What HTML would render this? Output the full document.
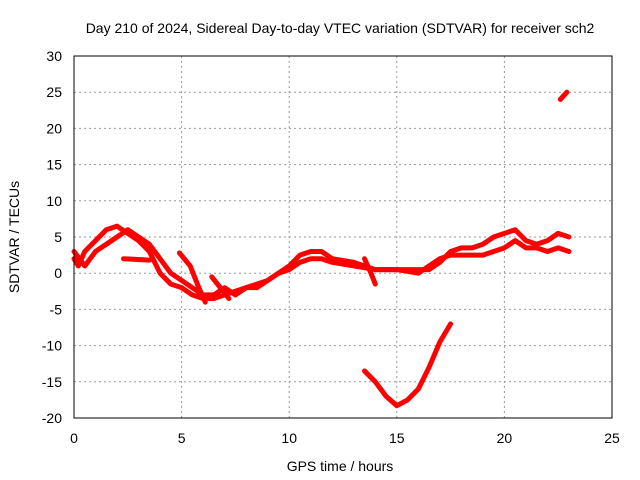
<!DOCTYPE html>
<html><head><meta charset="utf-8"><style>
body{margin:0;background:#fff}
svg{display:block;font-family:"Liberation Sans",sans-serif}
</style></head><body>
<svg id="chart" width="640" height="480">
<text x="340" y="33" text-anchor="middle" font-size="14" fill="#000">Day 210 of 2024, Sidereal Day-to-day VTEC variation (SDTVAR) for receiver sch2</text>
<text x="340" y="471" text-anchor="middle" font-size="14">GPS time / hours</text>
<text transform="translate(19,237) rotate(-90)" text-anchor="middle" font-size="14">SDTVAR / TECUs</text>
<g id="grid"></g>
<g id="ticks"></g>
<g id="series"></g>
<rect x="74" y="56" width="538" height="362" fill="none" stroke="#000"/>
</svg>
<script>
const xTicks=[0,5,10,15,20,25];
const yTicks=[30,25,20,15,10,5,0,-5,-10,-15,-20];
const seriesA=[[0,2],[0.2,1],[0.5,3],[1,4.5],[1.5,6],[2,6.5],[2.5,5.5],[3,4.5],[3.5,3],[4,0],[4.5,-1.5],[5,-2],[5.5,-3],[6,-3.5],[6.5,-3.5],[7,-3],[7.5,-2.5],[8,-2],[8.5,-1.5],[9,-1],[9.5,0],[10,0.5],[10.5,1.5],[11,2],[11.5,2],[12,1.5],[13,1],[14,0.5],[15,0.5],[16,0.5],[16.5,0.5],[17,1.5],[17.5,3],[18,3.5],[18.5,3.5],[19,4],[19.5,5],[20,5.5],[20.5,6],[21,4.5],[21.5,4],[22,4.5],[22.5,5.5],[23,5]];
const seriesB=[[0,3],[0.5,1],[1,3],[1.5,4],[2,5],[2.5,6],[3,5],[3.5,4],[4,2],[4.5,0],[5,-1],[5.5,-2],[6,-3],[6.5,-3],[7,-2],[7.5,-3],[8,-2],[8.5,-2],[9,-1],[9.5,0],[10,1],[10.5,2.5],[11,3],[11.5,3],[12,2],[13,1.5],[13.5,1],[14,0.5],[15,0.5],[16,0],[16.5,1],[17,2],[17.5,2.5],[18,2.5],[19,2.5],[19.5,3],[20,3.5],[20.5,4.5],[21,3.5],[21.5,3.5],[22,3],[22.5,3.5],[23,3]];
const seriesC=[[2.3,2],[3.5,1.8]];
const seriesC2=[[4.9,2.8],[5.4,1],[5.8,-2],[6.1,-4]];
const seriesC3=[[6.4,-0.5],[6.8,-2],[7.2,-3.5]];
const seriesC4=[[13.5,2],[13.8,0],[14,-1.5]];
const seriesD=[[13.5,-13.5],[14,-15],[14.5,-17],[15,-18.3],[15.5,-17.5],[16,-16],[16.5,-13],[17,-9.5],[17.5,-7]];
const seriesE=[[22.6,24],[22.9,25]];
const allSeries=[seriesA,seriesB,seriesC,seriesC2,seriesC3,seriesC4,seriesD,seriesE];
const X=v=>74+v*(538/25), Y=v=>56+(30-v)*(362/50);
const NS="http://www.w3.org/2000/svg";
const g=document.getElementById('grid'),t=document.getElementById('ticks'),s=document.getElementById('series');
function mk(tag,at,par){const e=document.createElementNS(NS,tag);for(const k in at)e.setAttribute(k,at[k]);par.appendChild(e);return e;}
xTicks.forEach(v=>{
 const l=mk('line',{x1:X(v),x2:X(v),y1:56,y2:418,stroke:'#999','stroke-dasharray':'2,3','stroke-width':1},g);
 
 
 const tx=mk('text',{x:X(v),y:443,'text-anchor':'middle','font-size':14},t);tx.textContent=v;
 
 
});
yTicks.forEach(v=>{
 const l=mk('line',{x1:74,x2:612,y1:Y(v),y2:Y(v),stroke:'#999','stroke-dasharray':'2,3','stroke-width':1},g);
 
 
 const tx=mk('text',{x:62,y:Y(v)+5,'text-anchor':'end','font-size':14},t);tx.textContent=v;
 
 
});
allSeries.forEach(arr=>{
 const p=mk('polyline',{points:arr.map(d=>X(d[0])+','+Y(d[1])).join(' '),fill:'none',stroke:'#f00','stroke-width':5,'stroke-linejoin':'round','stroke-linecap':'round'},s);
 
 
});
</script>
</body></html>
